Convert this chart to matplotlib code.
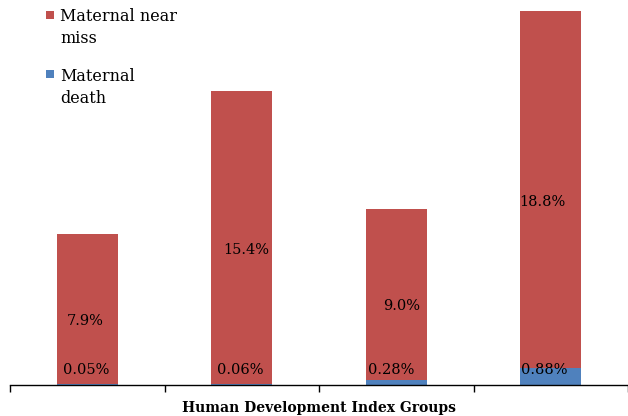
import matplotlib
matplotlib.use("Agg")
import matplotlib.pyplot as plt
from matplotlib.patches import Rectangle
import numpy as np

# ---- data ----
groups = ["Group 1", "Group 2", "Group 3", "Group 4"]
maternal_death = [0.05, 0.06, 0.28, 0.88]
maternal_near_miss = [7.9, 15.4, 9.0, 18.8]
death_labels = ["0.05%", "0.06%", "0.28%", "0.88%"]
near_miss_labels = ["7.9%", "15.4%", "9.0%", "18.8%"]
series_names = ["Maternal near\nmiss", "Maternal\ndeath"]
xlabel = "Human Development Index Groups"

# ---- style ----
RED = "#C0504D"
BLUE = "#4F81BD"
FONT = "DejaVu Serif"
near_dx_px = [-2.5, 4.5, 5.5, -8.0]   # label nudges (pixels)
death_dx_px = [-1.5, -1.5, -5.0, -6.0]

W, H = 628, 416
DPI = 100
fig = plt.figure(figsize=(W / DPI, H / DPI), dpi=DPI)
ax = fig.add_axes([10 / W, 31 / H, (W - 10) / W, 380 / H])

x = np.arange(len(groups))
bw = 0.395
ax.bar(x, maternal_death, width=bw, color=BLUE, linewidth=0)
ax.bar(x, maternal_near_miss, width=bw, bottom=maternal_death, color=RED, linewidth=0)

ax.set_xlim(-0.5, len(groups) - 0.5)
ax.set_ylim(0, 20)

px2pt = 72.0 / DPI
for i in range(len(groups)):
    yc = maternal_death[i] + maternal_near_miss[i] / 2.0
    ax.annotate(near_miss_labels[i], (x[i], yc), xytext=(near_dx_px[i] * px2pt, -12 * px2pt),
                textcoords="offset points", ha="center", va="center",
                fontsize=10.5, family=FONT, color="black")
    ax.annotate(death_labels[i], (x[i], 0), xytext=(death_dx_px[i] * px2pt, 15 * px2pt),
                textcoords="offset points", ha="center", va="center",
                fontsize=10.5, family=FONT, color="black")

# axes styling
for s in ["top", "right", "left"]:
    ax.spines[s].set_visible(False)
ax.spines["bottom"].set_color("black")
ax.spines["bottom"].set_linewidth(1.0)
ax.set_yticks([])
ax.set_xticks(x)
ax.set_xticklabels([])
ax.tick_params(axis="x", which="major", length=0)
ax.set_xticks(np.arange(-0.5, len(groups)), minor=True)
ax.tick_params(axis="x", which="minor", length=5, width=1.0, color="black", direction="out")
ax.set_xlabel(xlabel, fontsize=10, family=FONT, fontweight="bold", labelpad=3)

# legend (Excel-style: marker aligned with first line of wrapped text)
colors = [RED, BLUE]
sq_top_px = [11, 70]
last_base_px = [43, 103]
for name, c, st, tb in zip(series_names, colors, sq_top_px, last_base_px):
    fig.patches.append(Rectangle((46 / W, 1 - (st + 8) / H), 8 / W, 8 / H,
                                 transform=fig.transFigure, facecolor=c, edgecolor="none"))
    fig.text(60 / W, 1 - tb / H, name, ha="left", va="baseline", fontsize=11.5,
             family=FONT, color="black", linespacing=1.38)

fig.savefig("out.png", dpi=DPI)
